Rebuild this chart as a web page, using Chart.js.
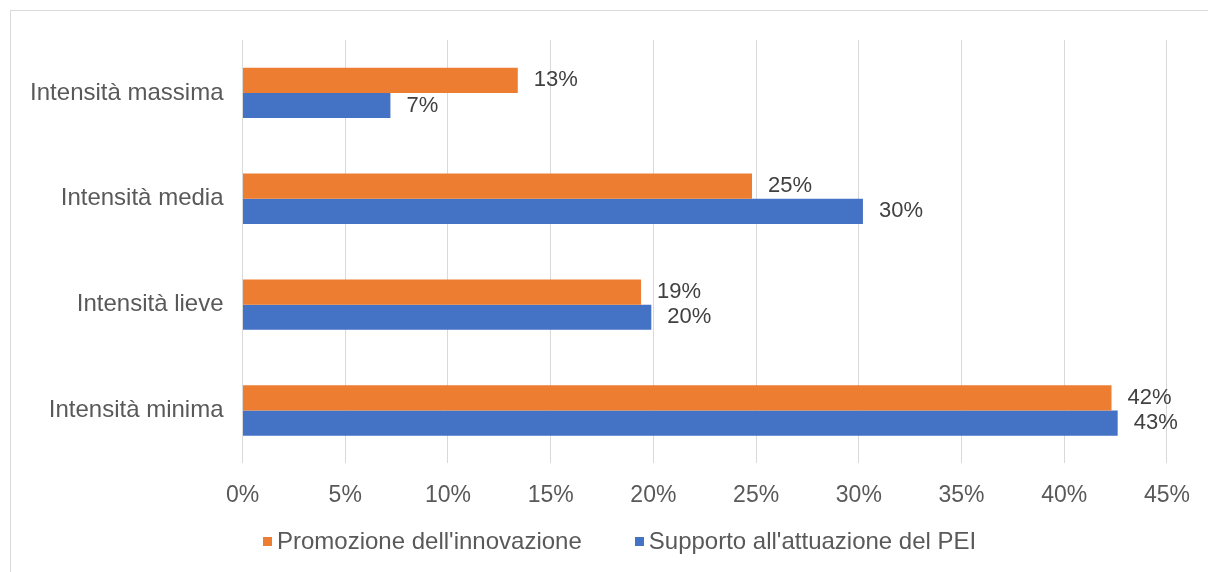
<!DOCTYPE html>
<html>
<head>
<meta charset="utf-8">
<script src="https://cdn.jsdelivr.net/npm/chart.js@4.4.1/dist/chart.umd.min.js"></script>
<style>
    html, body { margin: 0; padding: 0; background: #fff; overflow: hidden; }
    #wrap { position: relative; width: 1208px; height: 572px; }
    #frame { position: absolute; left: 10px; top: 10px; width: 1400px; height: 800px; border: 1px solid #d9d9d9; box-sizing: border-box; }
    #chart { position: absolute; left: 0; top: 0; }
    #legend { position: absolute; left: 263px; top: 527px; display: flex; gap: 53px; font-family: "Liberation Sans", Arial, sans-serif; font-size: 24px; color: #595959; }
    .item { display: flex; align-items: center; }
    .box { width: 9px; height: 9px; margin-right: 5px; }
</style>
</head>
<body>
<div id="wrap">
    <div id="frame"></div>
    <canvas id="chart" width="1208" height="572"></canvas>
    <div id="legend"></div>
</div>
<script>
// dati
const categorie = ["Intensità massima", "Intensità media", "Intensità lieve", "Intensità minima"];
const promozione = [13.4, 24.8, 19.4, 42.3];
const supporto = [7.2, 30.2, 19.9, 42.6];
const tickValori = [0, 5, 10, 15, 20, 25, 30, 35, 40, 45];
const nomiSerie = ["Promozione dell'innovazione", "Supporto all'attuazione del PEI"];
const coloriSerie = ["#ED7D31", "#4472C4"];

const font = "Liberation Sans, Arial, sans-serif";

// etichette valore a destra delle barre
const valueLabels = {
    id: "valueLabels",
    afterDatasetsDraw(chart) {
        const ctx = chart.ctx;
        ctx.save();
        ctx.font = "22px " + font;
        ctx.fillStyle = "#404040";
        ctx.textAlign = "left";
        ctx.textBaseline = "middle";
        chart.data.datasets.forEach((ds, i) => {
            chart.getDatasetMeta(i).data.forEach((bar, j) => {
                ctx.fillText(Math.round(ds.data[j]) + "%", bar.x + 16, bar.y);
            });
        });
        ctx.restore();
    }
};

let ctx = document.getElementById("chart").getContext("2d");

let chart = new Chart(ctx, {
    type: "bar",
    data: {
        labels: categorie,
        datasets: [
            { label: nomiSerie[0], data: promozione, backgroundColor: coloriSerie[0] },
            { label: nomiSerie[1], data: supporto, backgroundColor: coloriSerie[1] }
        ]
    },
    options: {
        indexAxis: "y",
        responsive: false,
        animation: false,
        layout: { padding: { top: 40, right: 41, bottom: 45, left: 0 } },
        plugins: { legend: { display: false }, tooltip: { enabled: false } },
        datasets: { bar: { categoryPercentage: 0.476, barPercentage: 1 } },
        scales: {
            x: {
                min: 0,
                max: 45,
                afterBuildTicks: scale => { scale.ticks = tickValori.map(v => ({ value: v })); },
                grid: { color: "#d9d9d9", drawTicks: false },
                border: { display: false },
                ticks: {
                    padding: 18,
                    color: "#595959",
                    font: { family: font, size: 23 },
                    callback: v => v + "%"
                }
            },
            y: {
                afterFit: scale => { scale.width = 242.5; },
                grid: { display: false, drawTicks: false },
                border: { display: false },
                ticks: {
                    padding: 19,
                    color: "#595959",
                    font: { family: font, size: 24 }
                }
            }
        }
    },
    plugins: [valueLabels]
});

// legenda
let legend = document.getElementById("legend");
chart.data.datasets.forEach(ds => {
    let item = document.createElement("div");
    item.className = "item";
    item.innerHTML = `<span class="box" style="background:${ds.backgroundColor}"></span><span>${ds.label}</span>`;
    legend.appendChild(item);
});
</script>
</body>
</html>
